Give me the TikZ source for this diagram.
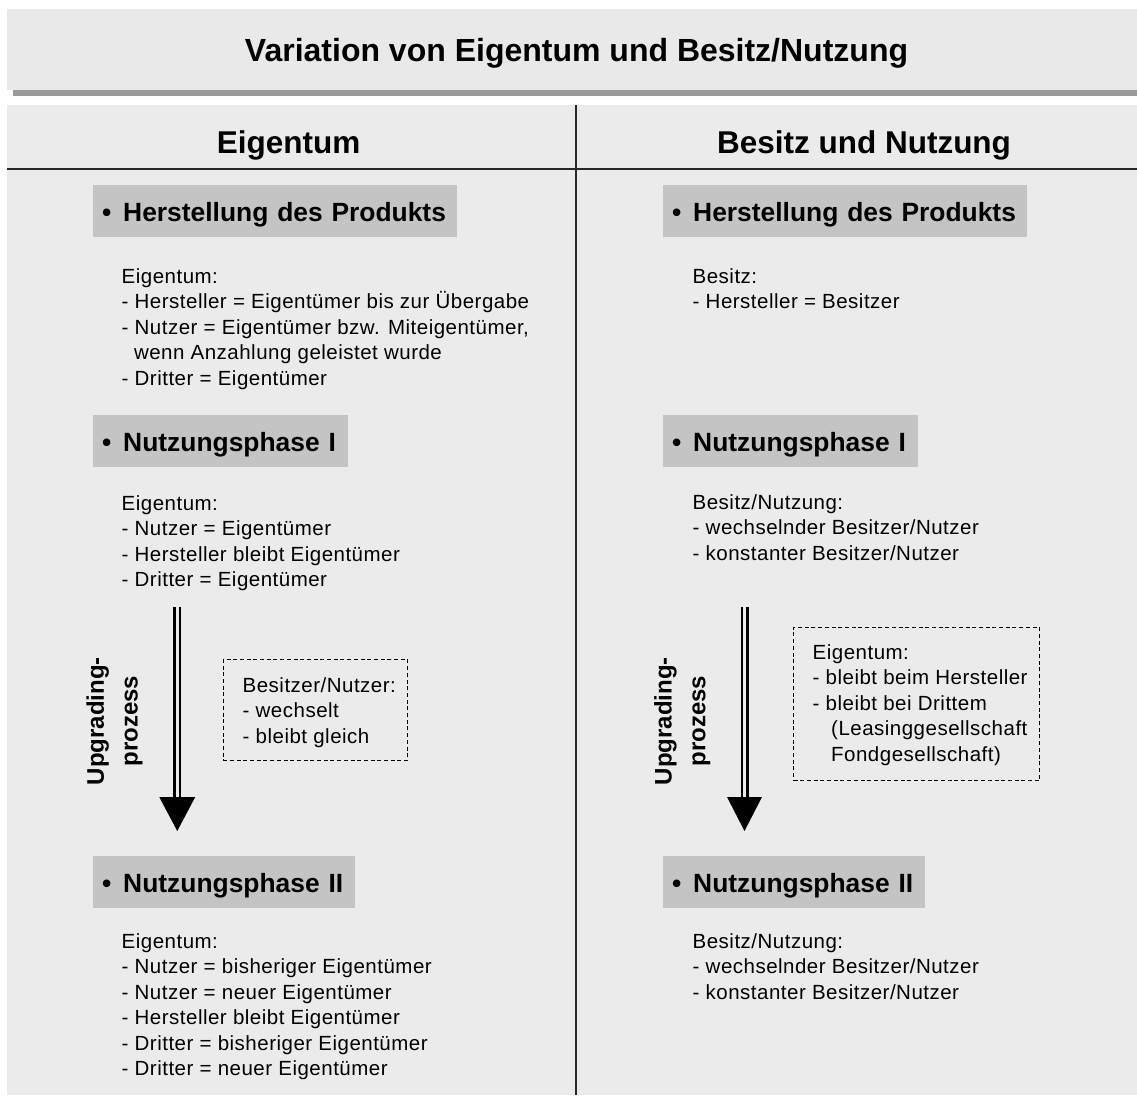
\documentclass[tikz,border=0pt]{standalone}
\usepackage{fontspec}
\setmainfont{Liberation Sans}
\newfontfamily\bodyfont{Liberation Sans}[LetterSpace=2.4]
\definecolor{panelbg}{RGB}{235,235,235}
\definecolor{titlebg}{RGB}{233,233,233}
\definecolor{secgray}{RGB}{196,196,196}
\definecolor{bargray}{RGB}{154,154,154}
\definecolor{rulecol}{RGB}{40,40,40}
% place a list of text lines, one named node per line
\newcommand\putlines[5]{% name, x, first baseline, line distance, lines
  \foreach \t [count=\i] in {#5}{
    \node[body] (#1-\i) at (#2,{#3+#4*(\i-1)}) {\t};
  }}
\begin{document}
\begin{tikzpicture}[x=1pt,y=-1pt,
  body/.style={anchor=base west, inner sep=0pt, font=\bodyfont\fontsize{20.5}{24}\selectfont},
  secbox/.style={fill=secgray, anchor=north west, minimum height=52pt,
    inner xsep=9pt, inner ysep=0pt, text height=25pt, text depth=5pt,
    align=left, font=\bfseries\fontsize{26.4}{30}\selectfont},
  bigtitle/.style={anchor=base, inner sep=0pt, font=\bfseries\fontsize{31.5}{36}\selectfont},
  dashbox/.style={draw=black, line width=1.1pt, dash pattern=on 4pt off 2.7pt,
    anchor=north west, inner sep=0pt},
  shaft/.style={draw=black, line width=2.5pt, double=panelbg, double distance=3pt},
  uplabel/.style={rotate=90, align=center, inner sep=0pt,
    font=\bfseries\fontsize{24}{33.7}\selectfont},
]
\useasboundingbox (0,0) rectangle (1137,1095);
\fill[white] (0,0) rectangle (1137,1095);

% title strip
\fill[titlebg] (7,9) rectangle (1137,90);
\fill[bargray] (13,90) rectangle (1137,96);
\node[bigtitle, font=\bfseries\fontsize{32}{36}\selectfont] (title) at (576.5,61)
  {Variation von Eigentum und Besitz/Nutzung};

% main panel with column heads
\fill[panelbg] (7,105) rectangle (1137,1095);
\draw[rulecol, line width=1.6pt] (7,169) -- (1137,169);
\draw[rulecol, line width=1.4pt] (576,105) -- (576,1095);
\node[bigtitle] (headL) at (288.5,153) {Eigentum};
\node[bigtitle] (headR) at (864,153) {Besitz und Nutzung};

% ---------- left column: Eigentum ----------
\node[secbox, text width=346pt] (hpL) at (93,185)
  {\mbox{•\hspace{11.8pt}Herstellung des Produkts}};
\putlines{tL}{121.5}{283}{25.6}{Eigentum:,
  - Hersteller = Eigentümer bis zur Übergabe,
  {- Nutzer = Eigentümer bzw. Miteigentümer,},
  \hspace*{12.3pt}wenn Anzahlung geleistet wurde,
  - Dritter = Eigentümer}

\node[secbox, text width=237pt] (n1L) at (93,415)
  {\mbox{•\hspace{11.8pt}Nutzungsphase I}};
\putlines{mL}{121.5}{510}{25.6}{Eigentum:,
  - Nutzer = Eigentümer,
  - Hersteller bleibt Eigentümer,
  - Dritter = Eigentümer}

\coordinate (upL) at (177.25,607);
\coordinate (hbL) at (177.25,797);
\coordinate (tipL) at (177.25,831);
\draw[shaft] (upL) -- (hbL);
\fill[black] (tipL) -- ([xshift=-18pt]hbL) -- ([xshift=18pt]hbL) -- cycle;
\node[uplabel] (labL) at (114.5,721) {Upgrading-\\prozess};

\node[dashbox, minimum width=184.3pt, minimum height=101pt] (dbL) at (222.7,659) {};
\putlines{dL}{242.5}{692}{25.5}{Besitzer/Nutzer:,
  - wechselt,
  - bleibt gleich}

\node[secbox, text width=244pt] (n2L) at (93,856)
  {\mbox{•\hspace{11.8pt}Nutzungsphase II}};
\putlines{bL}{121.5}{948.5}{25.4}{Eigentum:,
  - Nutzer = bisheriger Eigentümer,
  - Nutzer = neuer Eigentümer,
  - Hersteller bleibt Eigentümer,
  - Dritter = bisheriger Eigentümer,
  - Dritter = neuer Eigentümer}

% ---------- right column: Besitz und Nutzung ----------
\node[secbox, text width=346pt] (hpR) at (663,185)
  {\mbox{•\hspace{11.8pt}Herstellung des Produkts}};
\putlines{tR}{692.5}{283}{25.6}{Besitz:,
  - Hersteller = Besitzer}

\node[secbox, text width=237pt] (n1R) at (663,415)
  {\mbox{•\hspace{11.8pt}Nutzungsphase I}};
\putlines{mR}{692.5}{509.5}{25.4}{Besitz/Nutzung:,
  - wechselnder Besitzer/Nutzer,
  - konstanter Besitzer/Nutzer}

\coordinate (upR) at (744.5,607);
\coordinate (hbR) at (744.5,797);
\coordinate (tipR) at (744.5,831);
\draw[shaft] (upR) -- (hbR);
\fill[black] (tipR) -- ([xshift=-17.5pt]hbR) -- ([xshift=17.5pt]hbR) -- cycle;
\node[uplabel] (labR) at (682.3,721) {Upgrading-\\prozess};

\node[dashbox, minimum width=246pt, minimum height=153pt] (dbR) at (793,627) {};
\putlines{dR}{812.5}{659}{25.6}{Eigentum:,
  - bleibt beim Hersteller,
  - bleibt bei Drittem,
  \hspace*{18.5pt}(Leasinggesellschaft,
  \hspace*{18.5pt}Fondgesellschaft)}

\node[secbox, text width=244pt] (n2R) at (663,856)
  {\mbox{•\hspace{11.8pt}Nutzungsphase II}};
\putlines{bR}{692.5}{948.5}{25.4}{Besitz/Nutzung:,
  - wechselnder Besitzer/Nutzer,
  - konstanter Besitzer/Nutzer}
\end{tikzpicture}
\end{document}
